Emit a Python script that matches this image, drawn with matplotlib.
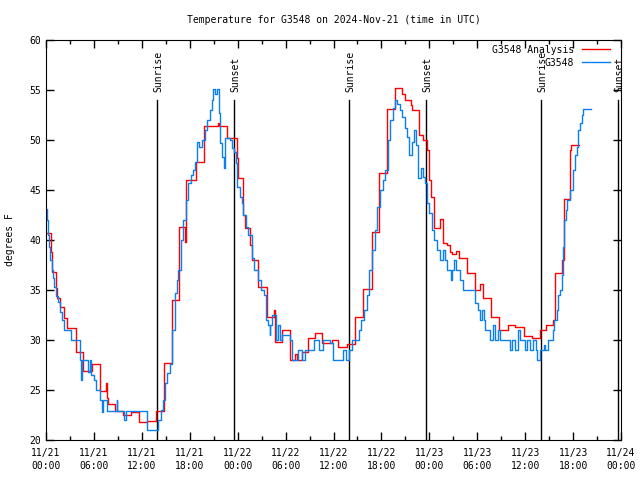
import numpy as np
import matplotlib
matplotlib.use('Agg')
import matplotlib.pyplot as plt

# hours since 2024-11-21 00:00 UTC
analysis_h = [0.0, 0.67, 0.75, 1.2, 1.4, 1.75, 2.25, 2.67, 3.7, 4.67, 5.8, 6.7, 7.55, 7.7, 7.8,
              8.7, 9.65, 10.7, 11.7, 12.6, 13.8, 14.8, 15.8, 16.65, 17.4, 17.5, 18.8, 19.8, 21.5,
              21.7, 22.7, 23.9, 24.1, 24.7, 24.9, 25.5, 25.8, 26.6, 27.7, 28.5, 28.65, 29.6, 30.6,
              31.2, 31.4, 32.0, 32.8, 33.7, 34.6, 35.8, 36.6, 37.65, 38.7, 39.7, 40.8, 41.7, 42.7,
              43.7, 44.6, 44.9, 45.7, 45.8, 46.7, 47.2, 47.7, 48.0, 48.2, 48.6, 49.3, 49.7, 50.2,
              50.6, 50.9, 51.4, 51.75, 52.7, 53.7, 54.3, 54.7, 55.7, 56.7, 57.8, 58.7, 59.8, 60.8,
              61.8, 62.6, 63.45, 63.7, 64.6, 64.8, 65.6, 65.8, 66.7]
analysis_t = [40.7, 38.8, 36.8, 35.2, 34.2, 33.3, 32.2, 31.2, 28.8, 26.9, 27.6, 24.9, 25.7, 24.2, 23.6,
              22.9, 22.5, 22.8, 21.8, 21.9, 22.9, 27.7, 34.0, 41.3, 39.8, 46.0, 47.8, 51.4, 51.7,
              51.4, 50.2, 48.2, 46.2, 42.5, 41.2, 39.5, 38.0, 35.3, 32.3, 33.0, 29.8, 31.0, 28.0,
              28.6, 28.0, 28.8, 30.2, 30.7, 29.7, 30.0, 29.3, 29.6, 32.3, 35.1, 40.8, 46.7, 53.1,
              55.2, 54.6, 54.0, 53.5, 53.0, 50.5, 50.0, 49.0, 46.0, 44.3, 41.2, 42.1, 39.7, 39.5,
              38.8, 38.6, 38.9, 38.2, 36.7, 35.0, 35.6, 34.2, 32.3, 31.0, 31.5, 31.3, 30.4, 30.2,
              31.0, 31.5, 32.0, 36.7, 38.0, 44.1, 49.0, 49.5, 49.5]

obs_h = [0.0, 0.12, 0.25, 0.4, 0.55, 0.7, 0.85, 1.05, 1.25, 1.5, 1.75, 2.0, 2.3, 3.1, 4.3, 4.4,
         4.45, 5.3, 5.55, 5.65, 6.0, 6.3, 6.7, 7.0, 7.1, 7.6, 8.85, 8.95, 9.8, 10.0, 12.6, 14.07,
         14.36, 14.6, 14.9, 15.2, 15.53, 15.8, 16.15, 16.36, 16.57, 16.9, 17.2, 17.5, 17.8, 18.1,
         18.45, 18.66, 18.95, 19.2, 19.5, 19.9, 20.2, 20.5, 20.75, 20.95, 21.2, 21.4, 21.6, 21.8,
         22.0, 22.3, 22.45, 23.0, 23.25, 23.5, 23.75, 23.96, 24.3, 24.5, 24.7, 25.1, 25.3, 25.75,
         26.05, 26.6, 26.9, 27.35, 27.5, 27.8, 28.0, 28.1, 28.3, 28.8, 29.1, 29.3, 29.5, 30.55,
         30.8, 31.6, 32.0, 32.4, 33.5, 34.2, 34.7, 35.5, 35.9, 37.15, 37.6, 37.9, 38.35, 39.2,
         39.5, 39.8, 40.2, 40.45, 40.8, 41.2, 41.5, 41.8, 42.2, 42.5, 42.8, 43.1, 43.4, 43.7,
         44.0, 44.3, 44.6, 45.0, 45.2, 45.4, 45.8, 46.1, 46.3, 46.6, 46.95, 47.2, 47.5, 47.7,
         48.0, 48.3, 48.6, 49.0, 49.3, 49.7, 50.0, 50.25, 50.7, 50.9, 51.1, 51.4, 51.9, 52.25,
         53.6, 53.7, 54.1, 54.35, 54.55, 54.85, 55.0, 55.6, 56.0, 56.2, 56.6, 56.8, 58.1, 58.4,
         58.7, 59.15, 59.35, 60.0, 60.2, 60.6, 61.0, 61.35, 61.5, 61.9, 62.3, 62.5, 62.8, 63.45,
         63.6, 63.95, 64.15, 64.4, 64.6, 64.7, 64.9, 65.1, 65.3, 65.6, 65.95, 66.2, 66.45, 66.65,
         66.9, 67.1, 67.3, 68.3]
obs_t = [43.1, 42.0, 40.5, 39.3, 38.0, 37.0, 36.2, 35.3, 34.4, 33.8, 32.8, 32.0, 31.0, 30.0, 28.0, 26.0,
         28.0, 26.8, 28.0, 26.5, 26.0, 25.0, 24.0, 22.8, 24.0, 22.9, 24.0, 22.9, 22.0, 22.9, 21.0, 22.0,
         23.0, 24.0, 25.7, 26.7, 27.6, 31.0, 34.7, 36.0, 37.0, 40.0, 42.0, 44.0, 45.7, 46.5,
         47.0, 47.8, 49.8, 49.3, 50.0, 51.0, 52.0, 53.0, 54.0, 55.1, 54.6, 55.1, 52.7, 49.7,
         48.3, 47.2, 50.2, 50.0, 49.2, 48.8, 47.7, 45.3, 44.3, 43.7, 42.5, 41.3, 40.5, 38.2,
         37.0, 36.0, 35.0, 34.5, 32.0, 31.5, 30.5, 31.5, 32.5, 30.0, 31.5, 30.0, 30.5, 30.0,
         28.0, 29.0, 28.0, 29.0, 30.0, 29.0, 30.0, 29.7, 28.0, 29.0, 28.0, 29.0, 30.0, 31.0,
         32.0, 33.0, 34.5, 37.0, 39.0, 41.0, 43.3, 45.0, 46.0, 47.0, 50.0, 52.0, 53.2, 54.0,
         53.6, 53.0, 52.3, 51.2, 50.3, 48.5, 49.8, 51.0, 49.5, 46.2, 47.2, 46.3, 45.7, 43.7,
         42.7, 41.0, 40.0, 39.0, 38.0, 39.0, 38.0, 37.0, 36.0, 37.0, 38.0, 37.0, 36.0, 35.0,
         35.0, 33.7, 33.0, 32.0, 33.0, 32.0, 31.0, 30.0, 31.5, 30.0, 31.0, 30.0, 29.0, 30.0,
         29.0, 31.0, 30.0, 29.0, 30.0, 29.0, 30.0, 29.0, 28.0, 29.0, 29.5, 29.0, 30.0, 31.0,
         32.0, 33.0, 34.5, 35.0, 36.5, 39.3, 42.0, 43.0, 44.0, 45.0, 47.0, 48.5, 49.3, 51.0,
         51.7, 52.5, 53.1, 53.1]

sunrise_h = [13.9, 37.94, 61.98]
sunset_h = [23.54, 47.58, 71.6]

tick_h = [0, 6, 12, 18, 24, 30, 36, 42, 48, 54, 60, 66, 72]
tick_labels = ['11/21\n00:00', '11/21\n06:00', '11/21\n12:00', '11/21\n18:00',
               '11/22\n00:00', '11/22\n06:00', '11/22\n12:00', '11/22\n18:00',
               '11/23\n00:00', '11/23\n06:00', '11/23\n12:00', '11/23\n18:00',
               '11/24\n00:00']

plt.rcParams['font.family'] = 'DejaVu Sans Mono'
plt.rcParams['font.size'] = 7

fig = plt.figure(figsize=(6.4, 4.8), dpi=100)
ax = fig.add_axes([46/640, 40/480, 575/640, 400/480])

for h in sunrise_h:
    ax.plot([h, h], [20, 54], color='black', lw=1.0)
    ax.text(h + 0.15, 54.8, 'Sunrise', rotation=90, ha='center', va='bottom')
for h in sunset_h:
    ax.plot([h, h], [20, 54], color='black', lw=1.0)
    ax.text(h + 0.15, 54.8, 'Sunset', rotation=90, ha='center', va='bottom')

ax.step(analysis_h, analysis_t, where='post', color='#ff0000', lw=1.0, label='G3548 Analysis')
ax.step(obs_h, obs_t, where='post', color='#0a80f0', lw=1.0, label='G3548')

ax.set_xlim(0, 72)
ax.set_ylim(20, 60)
ax.set_xticks(tick_h)
ax.set_xticklabels(tick_labels, linespacing=1.35)
ax.set_xticks(np.arange(3, 72, 6), minor=True)
ax.set_yticks(np.arange(20, 61, 5))
ax.tick_params(axis='both', which='both', direction='in', top=True, right=True, width=1)
ax.tick_params(which='major', length=6)
ax.tick_params(which='minor', length=3)
ax.tick_params(axis='x', pad=6)
ax.set_ylabel('degrees F', labelpad=10)
ax.set_title('Temperature for G3548 on 2024-Nov-21 (time in UTC)', fontsize=7, pad=12)

ax.legend(loc='upper right', bbox_to_anchor=(0.9896, 1.0), frameon=False, markerfirst=False,
          handlelength=2.9, borderaxespad=0.1, labelspacing=0.3, handletextpad=0.8)

fig.savefig('out.png', dpi=100)
